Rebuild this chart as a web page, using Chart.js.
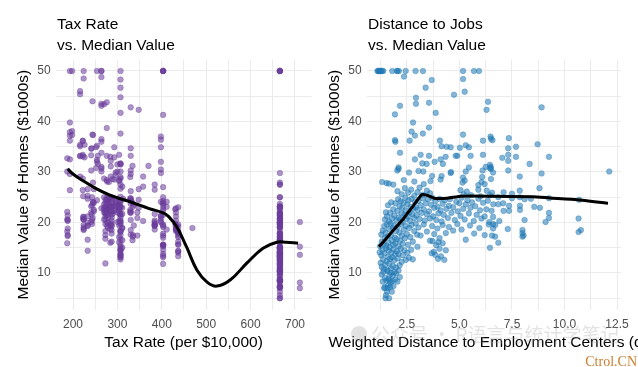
<!DOCTYPE html>
<html>
<head>
<meta charset="utf-8">
<script src="https://cdn.jsdelivr.net/npm/chart.js@4"></script>
<style>
  body { margin: 0; background: #fff; }
  canvas { position: absolute; top: 0; }
  #taxChart { left: 0; }
  #disChart { left: 311px; }
</style>
</head>
<body>
<canvas id="taxChart" width="320" height="367"></canvas>
<canvas id="disChart" width="327" height="367"></canvas>
<script>
// --- data ---
const taxLevels = [187, 188, 193, 198, 216, 222, 223, 224, 226, 233, 241, 242, 243, 244, 245, 247, 252, 254, 256,
  264, 270, 273, 276, 277, 279, 281, 284, 285, 287, 289, 293, 296, 300, 304, 305, 307, 311, 313, 329, 330, 334, 335,
  337, 345, 348, 358, 370, 384, 398, 403, 411, 430, 432, 437, 469, 666, 711];
const medvByTax = [
  [32.7, 30.1, 18.2, 20.6, 22.1, 15.9],
  [20.3, 20.5, 17.3, 18.8, 21.4, 17.5],
  [50, 37.2, 39.8, 36.2, 37.9, 32.5, 26.4, 29.6],
  [50, 38.1, 37.3],
  [33.2, 33.1, 29.1, 35.1, 45.4, 35.4, 46.0],
  [33.4, 36.2, 28.7, 26.4, 33.1, 36.1],
  [20.7, 21.1, 25.2],
  [48.5, 50, 20.7, 21.1, 19.5, 18.5, 20.6, 19.0, 18.7],
  [35.4, 32.9],
  [26.6, 25.3, 24.7, 21.2, 19.3, 20.0, 16.6, 14.4, 19.4],
  [33.3, 30.3, 34.6, 22.0, 20.1, 23.2],
  [21.6, 34.7],
  [19.7, 20.5, 25.0, 23.4],
  [20.9, 44.0, 37.4],
  [24.1, 37.3, 27.9, 23.9],
  [23.9, 26.6, 22.5, 22.2],
  [30.8, 34.9],
  [24.4, 35.2, 32.4, 32.0, 50],
  [31.6, 33.2],
  [50, 36.0, 30.1, 33.8, 43.1, 48.8, 31.0, 36.5, 22.8, 30.7, 50, 43.5],
  [23.6, 28.7, 22.6, 22.0, 22.9, 25.0, 20.6, 43.4],
  [21.8, 24.5, 23.1, 19.7, 18.3, 21.2, 17.5, 16.8, 22.4, 20.6, 23.9, 22.0, 11.9],
  [28.4, 21.4, 38.7, 43.8, 33.2],
  [22.6, 24.4, 22.5, 24.4, 20.0, 21.7, 19.3, 22.4, 28.1, 23.7, 25.0, 23.3],
  [18.9, 20.0, 21.0, 24.7],
  [28.0, 23.9, 24.8, 22.9],
  [23.3, 19.6, 18.7, 16.0, 22.2, 25.0, 33.0],
  [31.1, 29.1, 32.2],
  [22.1, 19.4, 21.6, 23.8, 16.2, 17.8, 19.8, 23.1, 21.0, 23.8, 23.1, 20.4, 18.5, 25.0, 24.6, 23.0, 22.2, 19.3],
  [21.7, 28.6],
  [34.9, 32.9, 22.3, 24.8, 28.5],
  [24.0, 23.6, 22.6, 29.4, 23.2, 24.6, 29.9],
  [30.1, 31.5, 23.7, 23.3, 22.0, 20.1],
  [28.4, 33.4, 28.2, 22.8, 20.3, 16.1, 17.1, 19.4, 22.2],
  [24.2, 21.7, 22.8, 23.4],
  [20.4, 18.2, 19.9, 23.1, 17.5, 20.2, 18.2, 13.6, 19.6, 15.2, 14.5, 15.6, 13.9, 16.6, 14.8, 18.4, 21.0, 12.7, 14.5,
   13.2, 13.1, 13.5, 28.7, 21.5, 23.0, 26.7, 21.7, 27.5, 30.1, 44.8, 50, 37.6, 31.6, 46.7, 31.5, 24.3, 31.7, 41.7,
   48.3, 29.0, 24.0, 25.1],
  [22.9, 27.1, 16.5, 18.9, 15.0, 18.9, 21.7],
  [24.7],
  [22.5, 29.0, 24.8, 22.0],
  [22.2, 23.7, 17.6, 18.5, 24.3, 20.5, 24.5, 26.2, 24.4, 24.8, 29.6, 42.8, 21.9, 34.7, 33.2, 30.3],
  [16.5, 23.9, 31.2],
  [17.5, 17.2, 23.1],
  [23.5, 19.4],
  [22.0, 17.4, 20.9],
  [24.5, 26.6, 22.9, 42.3],
  [27.1, 20.3, 29.1],
  [31.2],
  [27.5, 26.5, 18.6, 19.3, 20.1, 19.5, 19.5, 20.4, 19.8, 19.4, 21.7],
  [24.1, 21.4, 20.0, 20.8, 21.2, 20.3, 32.0, 29.8, 34.9, 37.0, 30.5, 36.4],
  [13.4, 15.6, 11.8, 13.8, 15.6, 14.6, 17.8, 15.4, 21.5, 19.6, 15.3, 19.4, 17.0, 15.6, 13.1, 41.3, 24.3, 23.3, 27.0,
   50, 50, 50, 22.7, 25.0, 50, 23.8, 23.8, 22.3, 17.4, 19.1],
  [24.1, 18.6, 23.1],
  [22.6, 19.8],
  [22.8, 18.8, 18.7, 18.5, 18.3, 21.2, 19.2, 20.4, 19.3, 22.0],
  [15.7, 16.2, 18.0, 14.3, 19.2, 19.6, 23.0, 18.4, 15.6, 18.1, 17.4, 17.1, 13.3, 17.8, 14.0, 14.4],
  [18.9],
  [17.8, 21.7, 22.7, 22.6, 25.0, 19.9, 20.8, 16.8, 21.9, 27.5, 21.9, 23.1, 50, 50, 50, 50, 50,
   13.8, 13.8, 15.0, 13.9, 13.3, 13.1, 10.2, 10.4, 10.9, 11.3, 12.3, 8.8, 7.2, 10.5, 7.4, 10.2, 11.5,
   15.1, 23.2, 9.7, 13.8, 12.7, 13.1, 12.5, 8.5, 5.0, 6.3, 5.6, 7.2, 12.1, 8.3, 8.5, 5.0, 11.9, 27.9, 17.2, 27.5,
   15.0, 17.2, 17.9, 16.3, 7.0, 7.2, 7.5, 10.4, 8.8, 8.4, 16.7, 14.2, 20.8, 13.4, 11.7, 8.3, 10.2, 10.9, 11.0, 9.5,
   14.5, 14.1, 16.1, 14.3, 11.7, 13.4, 9.6, 8.7, 8.4, 12.8, 10.5, 17.1, 18.4, 15.4, 10.8, 11.8, 14.9, 12.6, 14.1, 13.0,
   13.4, 15.2, 16.1, 17.8, 14.9, 14.1, 12.7, 13.5, 14.9, 20.0, 16.4, 17.7, 19.5, 20.2, 21.4, 19.9, 19.0, 19.1, 19.1, 20.1,
   19.9, 19.6, 23.2, 29.8, 13.8, 13.3, 16.7, 12.0, 14.6, 21.4, 23.0, 23.7, 25.0, 21.8, 20.6, 21.2, 19.1, 20.6],
  [15.2, 7.0, 8.1, 13.6, 20.1]
];
const taxSmoothX = [188, 200, 220, 250, 283, 300, 335, 370, 403, 415, 434, 456, 479, 502, 524, 554, 592, 628, 659, 680, 707];
const taxSmoothY = [30.6, 29.6, 28.4, 26.8, 25.4, 24.9, 23.9, 22.8, 21.9, 21.2, 19.1, 15.1, 10.6, 8.2, 7.4, 8.6, 12.0, 14.9, 16.1, 16.1, 15.9];

const disPoints = [
  // medv above 28
  [1.10,50],[1.13,50],[1.16,50],[1.20,50],[1.24,50],[1.28,50],[1.33,50],[1.37,50],[1.80,50],[2.02,50],[2.05,50],
  [2.12,50],[2.44,50],[2.91,50],[3.26,50],[5.17,50],[5.69,50],[5.93,50],
  [2.36,48.9],[3.68,48.2],[5.17,48.4],[3.39,46.7],[4.74,45.3],[5.25,45.9],[2.93,44.7],[2.93,43.5],[2.17,43.1],
  [3.55,43.7],[3.87,41.7],[1.93,41.4],[6.36,43.9],[6.29,42.3],[8.91,42.8],[2.79,39.8],[3.55,38.8],[2.72,38.0],
  [2.88,37.2],[3.26,37.6],[1.93,36.3],[1.95,36.0],[2.63,36.2],[5.17,37.4],[4.07,36.2],[4.15,35.1],[4.39,35.0],
  [4.58,34.9],[5.02,34.8],[5.30,35.3],[5.45,34.9],[6.12,36.2],[6.50,36.6],[6.57,36.3],[6.48,37.0],[7.35,36.7],
  [8.72,35.5],[7.32,34.7],[7.69,35.0],[2.17,33.8],[2.88,32.5],[3.15,33.4],[3.55,33.2],[4.10,32.5],[4.34,33.0],
  [3.82,32.0],[4.82,33.2],[4.90,33.2],[5.53,33.2],[6.12,33.4],[7.04,32.8],[7.32,33.4],[7.69,33.0],[9.26,33.0],
  [7.32,32.2],[8.34,31.6],[6.49,31.0],[3.23,31.7],[3.44,31.6],[4.21,31.6],[5.45,30.9],[6.25,31.0],[6.50,30.6],
  [2.10,30.9],[2.10,30.6],[2.60,29.9],[3.28,30.1],[3.70,29.2],[4.15,29.2],[4.58,29.8],[6.08,29.0],[5.17,28.9],
  [6.45,31.4],[6.45,30.8],[7.32,30.3],[8.91,29.7],[7.87,29.1],[12.13,30.1],[2.04,30.3],[3.05,30.2],[4.60,30.0],
  [5.30,30.1],[6.10,30.3],[6.60,29.9],
  // 25 - 28
  [1.32,28.0],[1.53,27.8],[1.64,27.7],[1.85,27.5],[2.35,28.4],[2.85,28.1],[3.30,27.6],[3.62,28.2],[4.10,28.5],
  [5.15,27.9],[5.25,28.3],[5.90,27.4],[6.05,28.0],[6.20,27.6],[6.50,28.6],[8.81,26.8],[7.87,26.3],[2.05,26.2],
  [2.25,25.6],[2.40,26.8],[2.55,25.9],[2.70,26.5],[2.85,25.3],[3.00,26.0],[3.10,26.9],[3.25,25.5],[3.45,26.3],
  [3.60,25.8],[5.05,26.4],[5.20,25.6],[5.35,26.1],[5.55,25.4],[5.90,26.5],[6.00,25.2],[6.30,26.3],[6.45,25.4],
  [6.55,25.9],[7.10,26.0],[7.50,25.7],
  // 20 - 25
  [1.45,20.6],[1.50,22.0],[1.55,21.2],[1.60,23.4],[1.65,20.2],[1.70,21.9],[1.75,24.0],[1.80,20.8],[1.85,22.6],
  [1.90,21.4],[1.95,23.8],[2.00,20.4],[2.05,22.3],[2.08,24.6],[2.10,21.0],[2.15,23.2],[2.18,20.6],[2.20,24.2],
  [2.25,21.8],[2.28,22.9],[2.30,20.1],[2.34,23.9],[2.38,21.5],[2.42,24.9],[2.45,22.4],[2.48,20.7],[2.52,23.6],
  [2.55,21.2],[2.58,24.4],[2.62,22.0],[2.65,20.3],[2.68,23.1],[2.72,24.7],[2.75,21.7],[2.80,22.8],[2.84,20.9],
  [2.88,24.1],[2.92,23.0],[2.96,21.4],[3.00,22.5],[3.05,24.3],[3.10,20.7],[3.15,23.4],[3.20,21.9],[3.25,24.8],
  [3.30,22.6],[3.35,20.4],[3.40,23.8],[3.45,21.6],[3.50,24.6],[3.55,22.2],[3.60,20.8],[3.65,23.5],[3.70,24.9],
  [3.75,21.2],[3.80,22.9],[3.85,24.2],[3.90,20.5],[3.95,23.1],[4.00,21.8],[4.05,24.7],[4.10,22.4],[4.15,20.2],
  [4.20,23.7],[4.25,21.5],[4.30,24.4],[4.38,22.7],[4.45,20.9],[4.50,23.3],[4.55,24.6],[4.62,21.9],[4.70,23.0],
  [4.78,20.5],[4.85,24.1],[4.92,22.2],[5.00,23.8],[5.05,21.3],[5.10,24.9],[5.18,22.7],[5.25,20.6],[5.30,23.6],
  [5.38,24.4],[5.45,21.8],[5.52,22.9],[5.60,24.0],[5.68,20.3],[5.75,23.2],[5.82,21.5],[5.90,24.7],[5.98,22.4],
  [6.05,20.8],[6.12,23.9],[6.20,21.2],[6.28,22.6],[6.35,24.3],[6.42,20.1],[6.61,23.6],[6.85,23.6],[7.08,23.8],
  [7.36,23.3],[7.88,23.3],[8.56,23.1],[8.83,22.9],[6.53,22.3],[7.10,22.3],[7.36,22.3],[7.88,22.5],[9.26,21.9],
  [9.26,20.9],[9.10,20.1],[8.10,20.5],[6.60,21.1],[6.90,20.3],[6.85,25.0],[7.50,24.8],[7.87,25.0],[8.10,24.6],
  [8.40,24.7],[9.26,24.8],[10.70,24.5],[10.67,20.8],
  // 15 - 20
  [1.22,15.3],[1.28,17.6],[1.30,16.2],[1.35,18.4],[1.38,15.8],[1.42,19.3],[1.45,16.9],[1.48,18.0],[1.52,15.4],
  [1.55,19.6],[1.58,17.2],[1.62,16.0],[1.65,18.7],[1.68,15.1],[1.72,19.8],[1.75,17.5],[1.78,16.4],[1.82,18.9],
  [1.85,15.6],[1.88,19.4],[1.92,17.0],[1.95,15.9],[1.98,18.3],[2.02,16.7],[2.06,19.1],[2.10,15.3],[2.14,18.0],
  [2.18,16.4],[2.22,19.7],[2.26,17.4],[2.30,15.8],[2.35,18.6],[2.40,16.9],[2.45,19.3],[2.50,17.7],[2.55,15.6],
  [2.60,18.9],[2.66,17.1],[2.72,19.5],[2.78,16.2],[2.85,18.3],[2.92,19.8],[2.98,17.6],[3.05,19.0],[3.15,17.4],
  [3.30,19.6],[3.45,18.2],[3.60,16.4],[3.70,19.3],[3.80,17.7],[3.95,18.8],[4.05,16.9],[4.20,19.5],[4.35,17.9],
  [4.50,19.1],[4.70,18.4],[4.90,19.7],[5.10,18.6],[5.30,16.6],[5.50,19.4],[5.70,17.8],[5.95,18.9],[6.20,17.5],
  [6.40,19.6],[6.55,17.4],[6.70,17.2],[6.85,16.0],[6.45,15.0],[7.30,18.7],[8.00,18.5],[8.00,17.9],[8.05,17.4],
  [8.00,17.2],[6.60,19.7],[6.70,19.5],[6.60,18.8],[10.67,18.1],[10.78,18.5],
  // cluster near 4 miles
  [3.72,16.3],[3.78,14.2],[3.85,13.6],[3.90,15.5],[3.98,12.8],[4.05,14.8],[4.12,13.3],[4.20,15.9],[4.28,12.6],
  [3.68,13.9],[4.00,16.1],[4.35,14.5],
  // 10 - 15
  [1.20,14.1],[1.25,12.0],[1.28,13.5],[1.30,11.2],[1.33,14.6],[1.36,12.7],[1.40,10.8],[1.43,13.9],[1.46,11.6],
  [1.50,14.9],[1.53,12.3],[1.56,10.6],[1.60,13.2],[1.63,14.4],[1.66,11.9],[1.70,12.8],[1.73,10.9],[1.76,14.0],
  [1.80,13.1],[1.83,11.4],[1.86,14.7],[1.90,12.5],[1.94,13.7],[1.98,11.1],[2.02,14.3],[2.06,12.9],[2.10,13.8],
  [2.15,11.5],[2.20,14.8],[2.25,12.2],[2.30,13.5],[2.38,14.5],[2.45,12.6],[2.52,14.0],[2.60,13.0],[2.70,14.6],
  [2.78,12.7],[3.00,15.2],
  // below 10
  [1.30,9.7],[1.35,8.3],[1.38,10.2],[1.42,7.0],[1.45,9.0],[1.48,5.0],[1.50,5.6],[1.52,8.5],[1.55,6.3],[1.57,10.4],
  [1.60,7.5],[1.62,8.8],[1.65,5.0],[1.67,9.6],[1.70,7.2],[1.72,8.1],[1.75,10.0],[1.78,6.3],[1.80,8.4],[1.83,9.5],
  [1.86,7.4],[1.90,10.2],[1.94,8.7],[1.98,9.9],[2.05,8.3],[2.10,10.5],[2.16,9.2],[1.58,7.0],[1.68,8.5],[1.44,7.2]
];
const disSmoothX = [1.17, 1.8, 2.36, 2.8, 3.2, 3.45, 3.8, 4.4, 5.07, 6.45, 8.5, 9.3, 10.6, 12.07];
const disSmoothY = [15.2, 18.2, 20.9, 23.3, 25.5, 25.4, 24.8, 24.8, 25.2, 25.2, 25.1, 24.85, 24.5, 23.8];

const yTitle = 'Median Value of Homes ($1000s)';
// ---------------------------------

const FONT = '"Liberation Sans", Arial, sans-serif';
Chart.defaults.font.family = FONT;

const titlePlugin = {
  id: 'panelText',
  afterDraw(chart, args, opts) {
    const ctx = chart.ctx, ca = chart.chartArea;
    ctx.save();
    ctx.fillStyle = '#000';
    ctx.font = '15.5px ' + FONT;
    ctx.textAlign = 'left';
    ctx.textBaseline = 'alphabetic';
    ctx.fillText(opts.title[0], ca.left + 1.5, 28.5);
    ctx.fillText(opts.title[1], ca.left + 1.5, 49.5);
    ctx.textAlign = 'center';
    ctx.textBaseline = 'middle';
    ctx.fillText(opts.xTitle, (ca.left + ca.right) / 2, 343);
    if (opts.mark) {
      ctx.fillStyle = 'rgba(150,150,150,0.28)';
      ctx.beginPath();
      ctx.arc(48, 334, 8, 0, Math.PI * 2);
      ctx.fill();
      ctx.font = '19px "Noto Sans CJK SC", sans-serif';
      ctx.textAlign = 'left';
      ctx.fillText('公众号 · R语言与统计学笔记', 60, 335);
      ctx.fillStyle = 'rgb(205,125,45)';
      ctx.font = '14px "Liberation Serif", serif';
      ctx.textAlign = 'right';
      ctx.textBaseline = 'alphabetic';
      ctx.fillText('Ctrol.CN', 326, 366);
    }
    ctx.restore();
  }
};

function makePanel(id, pts, smoothX, smoothY, colour, xAxis, text) {
  const smooth = smoothX.map((x, i) => ({x: x, y: smoothY[i]}));
  return new Chart(document.getElementById(id), {
    type: 'scatter',
    data: {
      datasets: [
        { data: smooth, showLine: true, borderColor: '#000', borderWidth: 3, pointRadius: 0, tension: xAxis.tension },
        { data: pts, pointRadius: 2.8, pointHoverRadius: 2.8, borderWidth: 0.5,
          backgroundColor: 'rgba(' + colour + ',0.55)', borderColor: 'rgba(' + colour + ',0.7)' }
      ]
    },
    options: {
      responsive: false,
      animation: false,
      events: [],
      layout: { padding: { left: 0, top: 59.6, right: xAxis.padRight, bottom: 12.4 } },
      plugins: { legend: { display: false }, tooltip: { enabled: false }, panelText: text },
      scales: {
        x: {
          type: 'linear', min: xAxis.min, max: xAxis.max,
          border: { display: false },
          grid: { color: '#EBEBEB', drawTicks: false, lineWidth: 1 },
          ticks: {
            stepSize: xAxis.step, includeBounds: false, autoSkip: false, maxRotation: 0,
            padding: 8, color: '#4D4D4D', font: { size: 12 },
            callback: v => {
              const k = v / xAxis.labelEvery;
              return Math.abs(k - Math.round(k)) < 1e-6 ? xAxis.fmt(v) : '';
            }
          },
          afterFit: s => { s.height = 45; }
        },
        y: {
          type: 'linear', min: 2.75, max: 52.25,
          border: { display: false },
          grid: { color: '#EBEBEB', drawTicks: false, lineWidth: 1 },
          ticks: {
            stepSize: 5, includeBounds: false, autoSkip: false, padding: 5,
            color: '#4D4D4D', font: { size: 12 },
            callback: v => (v % 10 === 0 ? String(v) : '')
          },
          title: { display: true, text: yTitle, color: '#000', font: { size: 15.5 }, padding: { top: 14.7, bottom: 0 } },
          afterFit: s => { s.width = 55.6; }
        }
      }
    },
    plugins: [titlePlugin]
  });
}

const taxPoints = [];
taxLevels.forEach((t, i) => medvByTax[i].forEach(v => taxPoints.push({x: t, y: v})));
const disPts = disPoints.map(p => ({x: p[0], y: p[1]}));

makePanel('taxChart', taxPoints, taxSmoothX, taxSmoothY, '106,61,154',
  { min: 160.8, max: 737.2, step: 50, labelEvery: 100, fmt: v => String(v), padRight: 8.5, tension: 0.4 },
  { title: ['Tax Rate', 'vs. Median Value'], xTitle: 'Tax Rate (per $10,000)' });

makePanel('disChart', disPts, disSmoothX, disSmoothY, '31,120,180',
  { min: 0.58, max: 12.68, step: 1.25, labelEvery: 2.5, fmt: v => v.toFixed(1), padRight: 17.2, tension: 0.15 },
  { title: ['Distance to Jobs', 'vs. Median Value'], xTitle: 'Weighted Distance to Employment Centers (dis)', mark: true });
</script>
</body>
</html>
